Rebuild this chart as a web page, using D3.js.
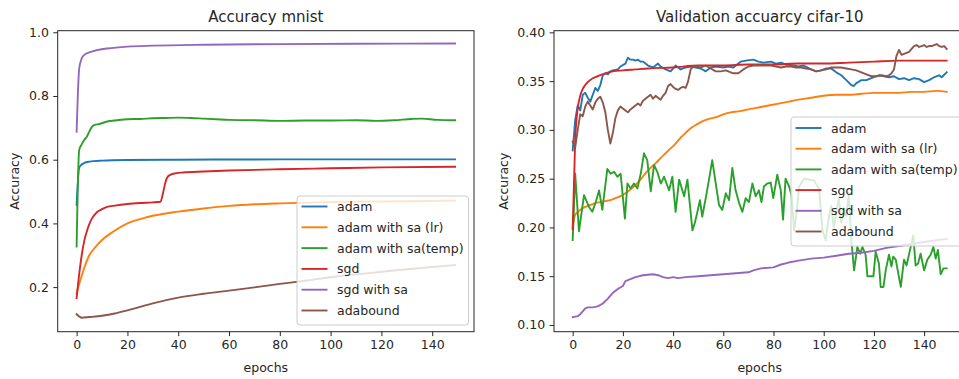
<!DOCTYPE html>
<html>
<head>
<meta charset="utf-8">
<script src="https://cdn.jsdelivr.net/npm/d3@7"></script>
<style>
  html, body { margin: 0; padding: 0; background: #fff; }
  svg { display: block; font-family: "DejaVu Sans", sans-serif; }
</style>
</head>
<body>
<svg id="fig" width="959" height="379"></svg>
<script>
// ---------- data: [epoch, accuracy] samples ----------
const seriesNames = ["adam", "adam with sa (lr)", "adam with sa(temp)", "sgd", "sgd with sa", "adabound"];
const seriesColors = ["#1f77b4", "#ff7f0e", "#2ca02c", "#d62728", "#9467bd", "#8c564b"];
const xTicks = [0, 20, 40, 60, 80, 100, 120, 140];
const mnistYTicks = [0.2, 0.4, 0.6, 0.8, 1.0];
const cifarYTicks = [0.10, 0.15, 0.20, 0.25, 0.30, 0.35, 0.40];

// MNIST accuracy
const mnistAdam = [[0,0.458],[1,0.575],[2,0.585],[3,0.590],[5,0.594],[10,0.597],[20,0.599],[40,0.600],[80,0.601],[149,0.601]];
const mnistSaLr = [[0,0.18],[1,0.21],[2,0.235],[3,0.26],[5,0.30],[7,0.322],[10,0.348],[14,0.372],[20,0.40],[28,0.42],[40,0.437],[50,0.447],[60,0.455],[70,0.46],[80,0.463],[100,0.467],[120,0.469],[149,0.471]];
const mnistSaTemp = [[0,0.327],[1,0.63],[2,0.648],[3,0.662],[4,0.672],[5,0.688],[6,0.703],[7,0.709],[9,0.712],[12,0.72],[16,0.724],[20,0.727],[25,0.728],[30,0.73],[35,0.731],[40,0.732],[45,0.731],[50,0.729],[55,0.727],[60,0.725],[70,0.724],[80,0.722],[90,0.723],[100,0.723],[110,0.724],[118,0.722],[125,0.724],[132,0.728],[136,0.729],[142,0.725],[149,0.724]];
const mnistSgd = [[0,0.165],[1,0.24],[2,0.30],[3,0.345],[4,0.375],[5,0.398],[6,0.415],[8,0.435],[10,0.445],[12,0.452],[15,0.456],[20,0.461],[25,0.464],[30,0.466],[33,0.468],[34,0.495],[35,0.53],[36,0.548],[38,0.556],[42,0.56],[50,0.563],[60,0.566],[80,0.57],[100,0.573],[120,0.576],[149,0.578]];
const mnistSgdSa = [[0,0.688],[1,0.885],[2,0.918],[3,0.929],[5,0.937],[8,0.944],[12,0.949],[20,0.955],[30,0.958],[50,0.961],[80,0.963],[110,0.964],[149,0.965]];
const mnistAdabound = [[0,0.115],[1,0.108],[2,0.104],[5,0.106],[10,0.11],[15,0.117],[20,0.127],[25,0.138],[30,0.149],[40,0.167],[50,0.179],[60,0.189],[70,0.199],[80,0.21],[90,0.22],[100,0.231],[110,0.24],[120,0.248],[130,0.256],[140,0.263],[149,0.269]];

// CIFAR-10 validation accuracy
const cifarAdam = [[0,0.279],[1,0.31],[2,0.325],[3,0.32],[4,0.336],[5,0.338],[6,0.333],[7,0.329],[8,0.336],[9,0.343],[10,0.34],[11,0.346],[12,0.356],[13,0.358],[14,0.357],[15,0.36],[16,0.361],[18,0.362],[19,0.365],[21,0.368],[22,0.374],[23,0.372],[24,0.372],[25,0.371],[26,0.372],[27,0.37],[28,0.37],[30,0.366],[32,0.364],[34,0.368],[35,0.365],[37,0.362],[38,0.361],[39,0.36],[41,0.366],[43,0.362],[45,0.364],[47,0.365],[49,0.364],[51,0.363],[53,0.36],[55,0.364],[57,0.365],[60,0.364],[62,0.365],[64,0.364],[67,0.37],[69,0.371],[72,0.372],[74,0.37],[76,0.369],[79,0.37],[81,0.368],[83,0.369],[85,0.367],[88,0.366],[90,0.365],[92,0.366],[95,0.362],[97,0.36],[99,0.361],[101,0.363],[103,0.363],[105,0.359],[107,0.356],[109,0.351],[111,0.346],[112,0.345],[113,0.348],[115,0.351],[117,0.351],[120,0.354],[122,0.356],[124,0.355],[126,0.354],[128,0.355],[130,0.352],[132,0.353],[134,0.351],[136,0.353],[138,0.352],[140,0.349],[142,0.351],[144,0.354],[146,0.356],[147,0.354],[149,0.359]];
const cifarSaLr = [[0,0.2],[1,0.213],[3,0.218],[5,0.221],[7,0.223],[9,0.225],[11,0.226],[13,0.227],[15,0.228],[17,0.23],[19,0.232],[21,0.235],[23,0.239],[25,0.2435],[27,0.249],[29,0.2555],[31,0.261],[33,0.2657],[35,0.271],[37,0.276],[39,0.281],[41,0.286],[43,0.292],[45,0.297],[47,0.3016],[49,0.305],[51,0.308],[54,0.311],[57,0.313],[60,0.316],[63,0.318],[66,0.319],[70,0.321],[74,0.323],[78,0.325],[82,0.327],[86,0.329],[90,0.331],[95,0.333],[100,0.335],[105,0.336],[110,0.336],[115,0.337],[120,0.338],[125,0.338],[130,0.338],[135,0.339],[140,0.339],[145,0.34],[149,0.339]];
const cifarSaTemp = [[0,0.187],[1,0.255],[2.5,0.196],[4.5,0.233],[6.5,0.221],[7.8,0.216],[9.2,0.226],[10.5,0.238],[11.8,0.218],[13.8,0.26],[15.1,0.255],[16.5,0.257],[17.8,0.252],[19.1,0.255],[20.8,0.209],[21.8,0.245],[23.1,0.24],[24.4,0.245],[25.8,0.24],[27.1,0.255],[28.4,0.276],[29.7,0.269],[31.1,0.237],[32.4,0.264],[33.7,0.257],[35.1,0.245],[36.4,0.252],[38.4,0.238],[39.7,0.252],[41,0.216],[42.4,0.249],[44.4,0.232],[45.7,0.249],[47.7,0.197],[48.7,0.205],[49.7,0.216],[50.7,0.228],[51.6,0.211],[53,0.23],[54.3,0.249],[55.6,0.269],[57,0.245],[58.3,0.223],[59.6,0.218],[61,0.235],[62.3,0.228],[63.6,0.261],[64.9,0.238],[66.3,0.225],[67.6,0.216],[68.9,0.23],[70.2,0.226],[71.6,0.245],[72.9,0.232],[74.2,0.238],[75.2,0.226],[76.2,0.242],[77.5,0.245],[78.9,0.246],[79.9,0.23],[81.5,0.254],[82.9,0.238],[83.8,0.208],[84.8,0.25],[86.2,0.242],[87.2,0.233],[88.2,0.197],[89.2,0.215],[90.2,0.242],[92.2,0.25],[94.2,0.249],[96.2,0.248],[98.2,0.239],[99.5,0.197],[100.8,0.187],[102,0.21],[103,0.222],[104,0.2],[105,0.215],[106,0.23],[107,0.205],[108,0.22],[109,0.212],[110,0.235],[111,0.187],[112.1,0.156],[113.4,0.18],[114.5,0.173],[115.4,0.18],[116.7,0.172],[117.4,0.15],[118.7,0.15],[119.8,0.15],[120.7,0.175],[122,0.163],[122.7,0.139],[123.8,0.139],[124.7,0.156],[126,0.172],[127,0.16],[127.7,0.17],[128.7,0.167],[130.7,0.139],[132,0.167],[133,0.161],[134.4,0.177],[135.7,0.192],[136.6,0.161],[137.6,0.163],[138.6,0.173],[140,0.156],[141.3,0.167],[142.6,0.172],[143.7,0.18],[144.6,0.168],[145.5,0.177],[146.6,0.152],[147.7,0.158],[149,0.158]];
const cifarSgd = [[0,0.198],[1,0.29],[2,0.322],[3,0.335],[4,0.342],[5,0.346],[6,0.349],[8,0.353],[10,0.355],[13,0.358],[16,0.36],[20,0.361],[25,0.362],[30,0.363],[40,0.364],[50,0.366],[60,0.366],[70,0.367],[80,0.367],[90,0.368],[100,0.368],[110,0.369],[120,0.37],[130,0.371],[140,0.371],[149,0.371]];
const cifarSgdSa = [[0,0.108],[2,0.109],[3,0.111],[4,0.114],[5,0.117],[6,0.118],[8,0.118],[10,0.119],[12,0.122],[14,0.127],[16,0.133],[18,0.137],[20,0.14],[21,0.145],[23,0.147],[25,0.149],[28,0.151],[32,0.152],[34,0.151],[36,0.149],[38,0.148],[40,0.149],[42,0.148],[45,0.149],[50,0.15],[55,0.151],[60,0.152],[65,0.153],[70,0.154],[72,0.156],[75,0.158],[80,0.159],[83,0.162],[86,0.164],[90,0.166],[95,0.168],[100,0.169],[105,0.171],[110,0.173],[115,0.174],[120,0.176],[125,0.179],[130,0.181],[135,0.183],[140,0.185],[145,0.187],[149,0.188]];
const cifarAdabound = [[0,0.288],[1,0.282],[2,0.30],[3,0.316],[4,0.314],[5,0.324],[6,0.329],[7,0.325],[8,0.321],[9,0.328],[10,0.332],[11,0.334],[12,0.328],[13,0.318],[14,0.3],[15,0.286],[16,0.297],[17,0.312],[18,0.32],[19,0.324],[20,0.322],[21,0.32],[22,0.318],[23,0.321],[24,0.323],[25,0.325],[26,0.327],[27,0.325],[28,0.33],[29,0.332],[30,0.334],[31,0.336],[32,0.332],[33,0.335],[34,0.333],[35,0.331],[36,0.335],[37,0.338],[38,0.345],[39,0.347],[40,0.344],[41,0.342],[42,0.341],[43,0.343],[44,0.344],[45,0.343],[46,0.35],[47,0.362],[48,0.365],[49,0.365],[51,0.364],[53,0.366],[55,0.363],[57,0.36],[59,0.36],[61,0.361],[63,0.359],[64,0.358],[66,0.358],[68,0.362],[70,0.365],[72,0.366],[74,0.366],[77,0.366],[79,0.366],[81,0.365],[83,0.364],[85,0.365],[87,0.365],[89,0.364],[91,0.364],[93,0.363],[95,0.362],[97,0.36],[99,0.361],[101,0.362],[103,0.364],[105,0.364],[107,0.364],[109,0.363],[111,0.362],[113,0.361],[115,0.359],[117,0.357],[119,0.355],[121,0.355],[123,0.356],[125,0.355],[126,0.356],[127,0.358],[128,0.362],[129,0.376],[130,0.382],[131,0.377],[132,0.378],[133,0.379],[134,0.38],[135,0.383],[136,0.386],[137,0.387],[138,0.385],[139,0.386],[140,0.387],[141,0.385],[142,0.386],[143,0.386],[144,0.387],[145,0.388],[146,0.386],[147,0.385],[148,0.386],[149,0.383]];

// ---------- drawing ----------
const svg = d3.select("#fig");
const FONT = 12.5;
const INK = "#262626";

function drawPanel(cfg) {
  const { id, left, right, top, bottom, xDomain, yDomain, yTicks, yFmt, title,
          series, smooth, legend, ylabelX } = cfg;
  const x = d3.scaleLinear().domain(xDomain).range([left, right]);
  const y = d3.scaleLinear().domain(yDomain).range([bottom, top]);
  const g = svg.append("g");

  g.append("clipPath").attr("id", "clip-" + id)
    .append("rect").attr("x", left).attr("y", top)
    .attr("width", right - left).attr("height", bottom - top);

  // series lines
  const lines = g.append("g").attr("clip-path", `url(#clip-${id})`);
  series.forEach((s, i) => {
    const gen = d3.line().x(d => x(d[0])).y(d => y(d[1]))
      .curve(smooth[i] ? d3.curveMonotoneX : d3.curveLinear);
    lines.append("path").datum(s)
      .attr("d", gen)
      .attr("fill", "none")
      .attr("stroke", seriesColors[i])
      .attr("stroke-width", 1.9)
      .attr("stroke-linejoin", "round")
      .attr("stroke-linecap", "square");
  });

  // axes
  const xAxis = d3.axisBottom(x).tickValues(xTicks).tickSize(4.4).tickPadding(4.4).tickFormat(d3.format("d"));
  const yAxis = d3.axisLeft(y).tickValues(yTicks).tickSize(4.4).tickPadding(4.4).tickFormat(d3.format(yFmt));
  const gx = g.append("g").attr("transform", `translate(0,${bottom})`).call(xAxis);
  const gy = g.append("g").attr("transform", `translate(${left},0)`).call(yAxis);
  [gx, gy].forEach(a => {
    a.select(".domain").remove();
    a.selectAll(".tick line").attr("stroke", INK).attr("stroke-width", 1);
    a.selectAll(".tick text").attr("fill", INK)
      .style("font-family", "DejaVu Sans").style("font-size", FONT + "px");
  });

  // frame
  g.append("rect").attr("x", left).attr("y", top)
    .attr("width", right - left).attr("height", bottom - top)
    .attr("fill", "none").attr("stroke", INK).attr("stroke-width", 1);

  // title and axis labels
  const cx = (left + right) / 2;
  g.append("text").attr("x", cx).attr("y", 22).attr("text-anchor", "middle")
    .attr("fill", INK).style("font-size", "15px").text(title);
  g.append("text").attr("x", cx).attr("y", 372).attr("text-anchor", "middle")
    .attr("fill", INK).style("font-size", FONT + "px").text("epochs");
  g.append("text").attr("transform", `translate(${ylabelX},${(top + bottom) / 2}) rotate(-90)`)
    .attr("text-anchor", "middle").attr("fill", INK)
    .style("font-size", FONT + "px").text("Accuracy");

  // legend
  const lg = g.append("g");
  const box = lg.append("rect")
    .attr("x", legend.x).attr("y", legend.y).attr("rx", 3).attr("ry", 3)
    .attr("fill", "#fff").attr("fill-opacity", 0.8)
    .attr("stroke", "#cccccc").attr("stroke-width", 1);
  let maxW = 0;
  seriesNames.forEach((name, i) => {
    const ry = legend.y + legend.firstRow + i * legend.step;
    lg.append("line")
      .attr("x1", legend.x + 4.5).attr("x2", legend.x + 30.5)
      .attr("y1", ry).attr("y2", ry)
      .attr("stroke", seriesColors[i]).attr("stroke-width", 1.9);
    const t = lg.append("text")
      .attr("x", legend.x + 40).attr("y", ry).attr("dy", "0.36em")
      .attr("fill", INK).style("font-size", FONT + "px").text(name);
    maxW = Math.max(maxW, t.node().getComputedTextLength());
  });
  box.attr("width", 40 + maxW + 5).attr("height", legend.h);
}

drawPanel({
  id: "mnist", left: 57.7, right: 474, top: 30.7, bottom: 331.7,
  xDomain: [-7.45, 156.45], yDomain: [0.06, 1.005],
  yTicks: mnistYTicks, yFmt: ".1f", title: "Accuracy mnist",
  series: [mnistAdam, mnistSaLr, mnistSaTemp, mnistSgd, mnistSgdSa, mnistAdabound],
  smooth: [true, true, true, true, true, true],
  legend: { x: 297, y: 196, h: 129, firstRow: 10.5, step: 20.8 },
  ylabelX: 18.6
});

drawPanel({
  id: "cifar", left: 554, right: 965.4, top: 30.7, bottom: 331.7,
  xDomain: [-7.45, 156.45], yDomain: [0.0931, 0.4017],
  yTicks: cifarYTicks, yFmt: ".2f", title: "Validation accuarcy cifar-10",
  series: [cifarAdam, cifarSaLr, cifarSaTemp, cifarSgd, cifarSgdSa, cifarAdabound],
  smooth: [false, true, false, true, false, false],
  legend: { x: 791, y: 117, h: 129, firstRow: 11, step: 20.7 },
  ylabelX: 508
});
</script>
</body>
</html>
